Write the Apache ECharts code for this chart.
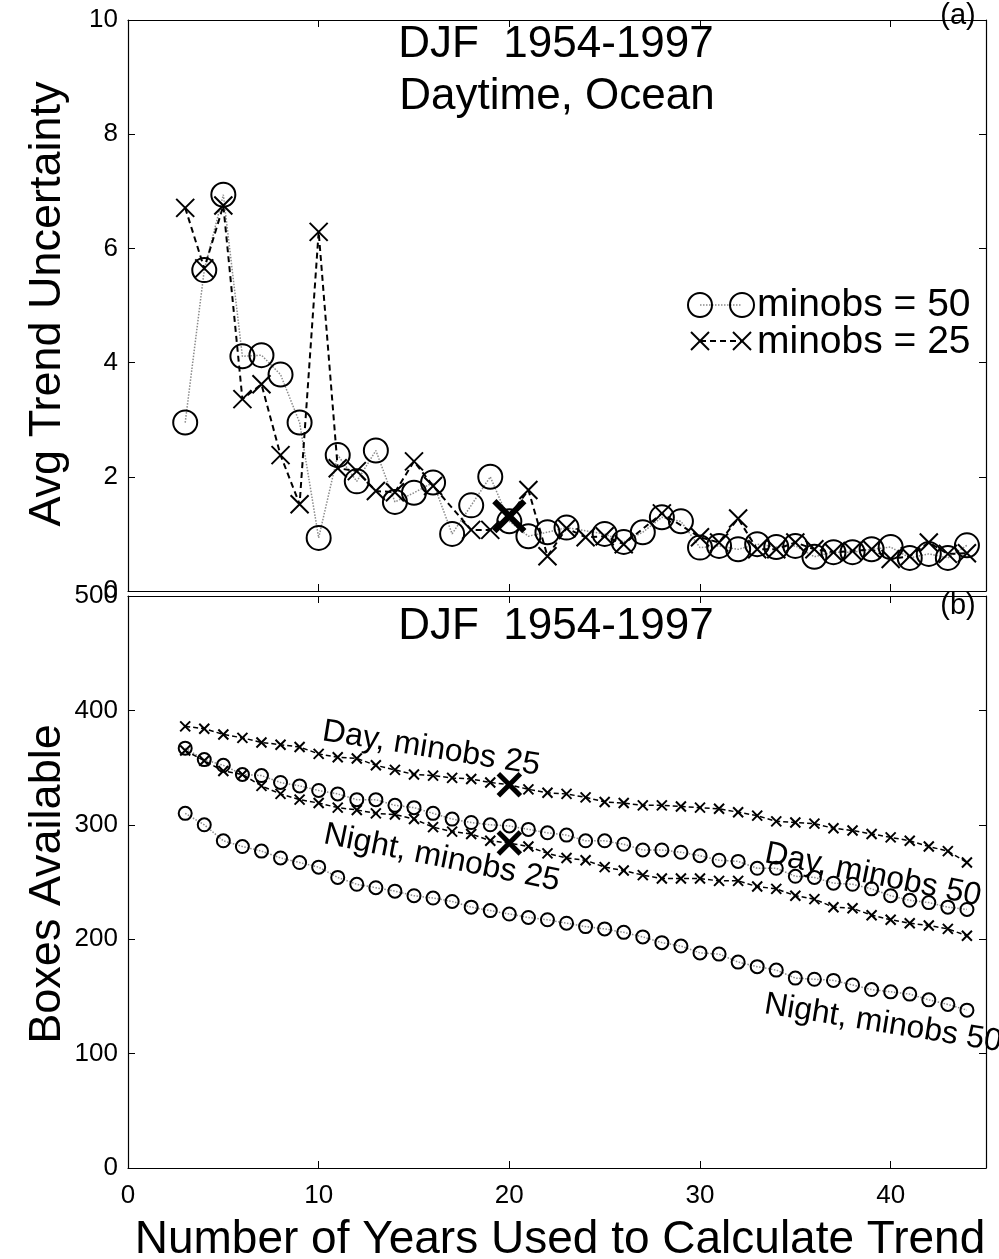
<!DOCTYPE html>
<html>
<head>
<meta charset="utf-8">
<script src="https://cdn.jsdelivr.net/npm/echarts@6/dist/echarts.min.js"></script>
<style>
html,body{margin:0;padding:0;background:#fff;}
#chart{width:999px;height:1259px;}
</style>
</head>
<body>
<div id="chart"></div>
<script>
// ---------- data ----------
const years = [3,4,5,6,7,8,9,10,11,12,13,14,15,16,17,18,19,20,21,22,23,24,25,26,27,28,29,30,31,32,33,34,35,36,37,38,39,40,41,42,43,44];

// Panel (a): Avg trend uncertainty, DJF 1954-1997, daytime, ocean
const uncMinobs50 = [2.95,5.62,6.94,4.11,4.13,3.79,2.95,0.93,2.38,1.92,
                     2.46,1.56,1.72,1.90,1.00,1.50,2.00,1.22,0.96,1.03,
                     1.11,null,1.00,0.86,1.03,1.29,1.22,0.76,0.79,0.73,
                     0.82,0.77,0.79,0.60,0.68,0.68,0.73,0.77,0.58,0.65,
                     0.58,0.80];
const uncMinobs25 = [6.71,5.65,6.75,3.36,3.62,2.38,1.52,6.29,2.15,2.10,
                     1.75,1.73,2.27,1.84,null,1.07,1.07,1.31,1.77,0.61,
                     1.10,0.94,0.96,0.82,null,1.36,null,0.94,0.85,1.27,
                     0.73,0.73,0.85,0.73,0.68,0.70,0.73,0.56,0.61,0.85,
                     0.65,0.66];

// Panel (b): boxes available
const dayMinobs25   = [386,384,379,376,372,370,368,362,359,358,352,348,344,343,341,340,337,335,331,328,327,324,320,319,317,317,316,315,314,311,308,303,302,301,297,295,292,289,286,281,277,267];
const dayMinobs50   = [367,357,352,344,343,337,334,330,327,322,322,317,315,310,305,302,300,299,296,293,291,286,286,283,278,278,276,273,269,268,262,262,255,254,249,248,244,238,234,232,228,226];
const nightMinobs25 = [365,356,347,344,334,327,322,319,315,313,310,309,305,298,294,292,286,284,281,275,271,269,263,260,256,253,253,253,251,251,246,244,238,235,228,227,221,217,214,212,209,203];
const nightMinobs50 = [310,300,286,281,277,271,267,263,254,248,245,242,238,236,233,228,225,222,219,217,214,211,209,206,202,197,194,188,187,180,176,173,166,165,164,160,156,154,152,147,143,138];

const highlightYear = 20;

const xTicks = [0,10,20,30,40];
const yTicksA = [0,2,4,6,8,10];
const yTicksB = [0,100,200,300,400,500];

const titleA1 = 'DJF  1954-1997';
const titleA2 = 'Daytime, Ocean';
const titleB = 'DJF  1954-1997';
const yNameA = 'Avg Trend Uncertainty';
const yNameB = 'Boxes Available';
const xName = 'Number of Years Used to Calculate Trend';
const legendLabels = ['minobs = 50','minobs = 25'];
const curveLabels = ['Day, minobs 25','Night, minobs 25','Day, minobs 50','Night, minobs 50'];

// ---------- chart ----------
const FONT = '"Liberation Sans", Arial, Helvetica, sans-serif';
const XPATH = 'path://M0,0L10,10M10,0L0,10';

const chart = echarts.init(document.getElementById('chart'), null, {renderer:'canvas'});

function pairs(vals){ return years.map((y,i)=>[y, vals[i]]); }
function withHighlight(vals, size, width){
  return years.map((y,i)=>{
    if (y === highlightYear && vals[i] != null) {
      return {value:[y, vals[i]], symbolSize:size, itemStyle:{borderWidth:width}};
    }
    return [y, vals[i]];
  });
}

const axisLineStyle = {lineStyle:{color:'#000', width:1.2}};
const tickStyle = {inside:true, length:7, lineStyle:{color:'#000', width:1}};

function xAxisDef(grid, pos, showLabel){
  return {
    type:'value', gridIndex:grid, position:pos, min:0, max:45, interval:10,
    axisLine:{show:true, onZero:false, ...axisLineStyle},
    axisTick:tickStyle, splitLine:{show:false},
    axisLabel:{show:showLabel, fontSize:26, fontFamily:FONT, color:'#000', margin:15,
      formatter:(v)=> xTicks.includes(v) ? String(v) : ''}
  };
}
function yAxisDef(grid, pos, max, interval, ticks, showLabel){
  return {
    type:'value', gridIndex:grid, position:pos, min:0, max:max, interval:interval,
    axisLine:{show:true, onZero:false, ...axisLineStyle},
    axisTick:tickStyle, splitLine:{show:false},
    axisLabel:{show:showLabel, fontSize:26, fontFamily:FONT, color:'#000', margin:10,
      formatter:(v)=> ticks.includes(v) ? String(v) : ''}
  };
}

const circleA = {
  type:'line', xAxisIndex:0, yAxisIndex:0, data:pairs(uncMinobs50),
  symbol:'circle', symbolSize:24, showAllSymbol:true, connectNulls:true,
  itemStyle:{color:'rgba(0,0,0,0)', borderColor:'#000', borderWidth:2},
  lineStyle:{color:'#8a8a8a', width:1.5, type:[1.5,1.5]},
  emphasis:{disabled:true}, z:3
};
const crossA = {
  type:'line', xAxisIndex:0, yAxisIndex:0, data:withHighlight(uncMinobs25, 30, 6),
  symbol:XPATH, symbolSize:18, showAllSymbol:true, connectNulls:true,
  itemStyle:{color:'#000', borderColor:'#000', borderWidth:2},
  lineStyle:{color:'#000', width:2, type:[6,4]},
  emphasis:{disabled:true}, z:4
};
function circleB(vals){
  return {
    type:'line', xAxisIndex:1, yAxisIndex:1, data:pairs(vals),
    symbol:'circle', symbolSize:13, showAllSymbol:true,
    itemStyle:{color:'rgba(0,0,0,0)', borderColor:'#000', borderWidth:2},
    lineStyle:{color:'#8a8a8a', width:1.5, type:[1.5,1.5]},
    emphasis:{disabled:true}, z:3
  };
}
function crossB(vals){
  return {
    type:'line', xAxisIndex:1, yAxisIndex:1, data:withHighlight(vals, 22, 5),
    symbol:XPATH, symbolSize:10, showAllSymbol:true,
    itemStyle:{color:'#000', borderColor:'#000', borderWidth:2},
    lineStyle:{color:'#000', width:1.5, type:[5,3]},
    emphasis:{disabled:true}, z:4
  };
}

function txt(x, y, text, size, opts){
  return Object.assign({
    type:'text', x:x, y:y, z:100,
    style:{text:text, fontSize:size, fontFamily:FONT, fill:'#000', align:'center', verticalAlign:'middle'}
  }, opts || {});
}
function leftTxt(x, y, text, size){
  return {type:'text', x:x, y:y, z:100,
    style:{text:text, fontSize:size, fontFamily:FONT, fill:'#000', align:'left', verticalAlign:'middle'}};
}
function rotTxt(x, y, text, size, rot){
  return {type:'text', x:x, y:y, rotation:rot, z:100,
    style:{text:text, fontSize:size, fontFamily:FONT, fill:'#000', align:'left', verticalAlign:'bottom'}};
}
function xMark(cx, cy, h, w){
  return [
    {type:'line', shape:{x1:cx-h, y1:cy-h, x2:cx+h, y2:cy+h}, style:{stroke:'#000', lineWidth:w}, z:100},
    {type:'line', shape:{x1:cx-h, y1:cy+h, x2:cx+h, y2:cy-h}, style:{stroke:'#000', lineWidth:w}, z:100}
  ];
}

const graphics = [
  txt(556, 45, titleA1, 44),
  txt(557, 97, titleA2, 44),
  txt(958, 16, '(a)', 29),
  txt(556, 627, titleB, 44),
  txt(958, 606, '(b)', 29),
  txt(48, 304, yNameA, 45, {rotation:Math.PI/2}),
  txt(48, 884, yNameB, 45, {rotation:Math.PI/2}),
  txt(560, 1240, xName, 46),
  // legend
  {type:'line', shape:{x1:700, y1:305, x2:742, y2:305}, style:{stroke:'#8a8a8a', lineWidth:1.5, lineDash:[1.5,1.5]}, z:100},
  {type:'circle', shape:{cx:700, cy:305, r:12}, style:{fill:'none', stroke:'#000', lineWidth:2}, z:100},
  {type:'circle', shape:{cx:742, cy:305, r:12}, style:{fill:'none', stroke:'#000', lineWidth:2}, z:100},
  {type:'line', shape:{x1:700, y1:341, x2:742, y2:341}, style:{stroke:'#000', lineWidth:2, lineDash:[6,4]}, z:100},
  ...xMark(700, 341, 9, 2),
  ...xMark(742, 341, 9, 2),
  leftTxt(757, 305, legendLabels[0], 39),
  leftTxt(757, 342, legendLabels[1], 39),
  // curve labels in panel (b)
  rotTxt(320, 747, curveLabels[0], 32, -0.159),
  rotTxt(321, 850, curveLabels[1], 32, -0.199),
  rotTxt(762, 869, curveLabels[2], 32, -0.199),
  rotTxt(762, 1020, curveLabels[3], 32, -0.161)
];

const option = {
  animation:false,
  backgroundColor:'#fff',
  grid:[
    {left:128, top:20, width:858, height:571},
    {left:128, top:596, width:858, height:572}
  ],
  xAxis:[
    xAxisDef(0,'bottom',false),
    xAxisDef(1,'bottom',true),
    xAxisDef(0,'top',false),
    xAxisDef(1,'top',false)
  ],
  yAxis:[
    yAxisDef(0,'left',10,2,yTicksA,true),
    yAxisDef(1,'left',500,100,yTicksB,true),
    yAxisDef(0,'right',10,2,yTicksA,false),
    yAxisDef(1,'right',500,100,yTicksB,false)
  ],
  series:[
    circleA, crossA,
    circleB(dayMinobs50), circleB(nightMinobs50),
    crossB(dayMinobs25), crossB(nightMinobs25)
  ],
  graphic:graphics
};
chart.setOption(option);
</script>
</body>
</html>
